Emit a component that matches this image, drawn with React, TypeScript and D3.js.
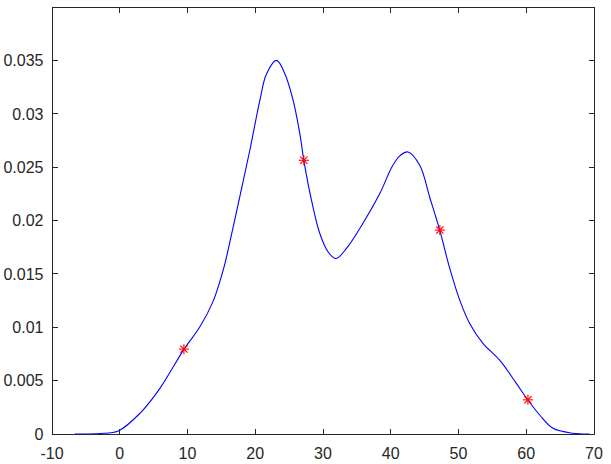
import React from "react";
import * as d3 from "d3";

// density curve
const curveX = [-6.61, -2.92, -0.22, 2.98, 5.93, 9.47, 11.83, 13.79, 15.27, 16.25, 17.73, 19.2, 20.68, 21.67, 23.14, 24.37, 25.59, 26.58, 27.17, 28.3, 29.53, 30.75, 31.89, 33.47, 35.43, 38.38, 40.15, 41.33, 42.55, 44.28, 45.75, 47.23, 48.7, 50.18, 51.65, 53.61, 56.08, 58.54, 60.25, 61.98, 63.94, 66.89, 69.35];
const curveY = [0, 0.00004, 0.00028, 0.00194, 0.00428, 0.00793, 0.01004, 0.01245, 0.01535, 0.01797, 0.02227, 0.02658, 0.03126, 0.03375, 0.035, 0.03375, 0.03126, 0.02814, 0.02564, 0.0219, 0.01878, 0.01706, 0.01644, 0.01738, 0.01925, 0.02252, 0.02499, 0.02606, 0.02642, 0.02517, 0.02218, 0.01909, 0.01553, 0.01254, 0.01036, 0.00849, 0.00692, 0.00474, 0.00318, 0.00178, 0.00053, 0.00007, 0];

// marked samples
const sampleX = [9.47, 27.17, 47.25, 60.25];
const sampleY = [0.00795, 0.02564, 0.0191, 0.0032];

const xTicks = [-10, 0, 10, 20, 30, 40, 50, 60, 70];
const yTicks = [0, 0.005, 0.01, 0.015, 0.02, 0.025, 0.03, 0.035];

const W = 611;
const H = 464;
const left = 52;
const right = 594;
const top = 7;
const bottom = 434;
const axisColor = "#262626";
const font = "'Liberation Sans', Arial, sans-serif";

const App = () => {
  const x = d3.scaleLinear().domain([-10, 70]).range([left, right]);
  const y = d3.scaleLinear().domain([0, 0.04]).range([bottom, top]);

  const line = d3
    .line<number>()
    .x((d, i) => x(curveX[i]))
    .y((d) => Math.min(y(d), bottom))
    .curve(d3.curveCatmullRom.alpha(0.5));

  const tick = 5.5;

  return (
    <svg
      width={W}
      height={H}
      style={{ position: "absolute", left: 0, top: 0, background: "#fff" }}
    >
      <rect x={0} y={0} width={W} height={H} fill="#fff" />
      {/* curve */}
      <path d={line(curveY) || ""} fill="none" stroke="#0000ff" strokeWidth={1.1} />

      {/* star markers */}
      {sampleX.map((sx, i) => {
        const cx = x(sx);
        const cy = y(sampleY[i]);
        const r = 5;
        const q = 3.6;
        return (
          <g key={i} stroke="#ff0000" strokeWidth={1.1}>
            <line x1={cx - r} y1={cy} x2={cx + r} y2={cy} />
            <line x1={cx} y1={cy - r} x2={cx} y2={cy + r} />
            <line x1={cx - q} y1={cy - q} x2={cx + q} y2={cy + q} />
            <line x1={cx - q} y1={cy + q} x2={cx + q} y2={cy - q} />
          </g>
        );
      })}

      {/* box */}
      <rect
        x={left}
        y={top}
        width={right - left}
        height={bottom - top}
        fill="none"
        stroke={axisColor}
        strokeWidth={1}
        shapeRendering="crispEdges"
      />

      {/* x ticks */}
      {xTicks.map((t) => (
        <g key={"x" + t} stroke={axisColor} shapeRendering="crispEdges">
          <line x1={x(t)} x2={x(t)} y1={bottom} y2={bottom - tick} />
          <line x1={x(t)} x2={x(t)} y1={top} y2={top + tick} />
        </g>
      ))}
      {xTicks.map((t) => (
        <text
          key={"xl" + t}
          x={x(t)}
          y={459}
          textAnchor="middle"
          fontFamily={font}
          fontSize={16}
          fill={axisColor}
        >
          {t}
        </text>
      ))}

      {/* y ticks */}
      {yTicks.map((t) => (
        <g key={"y" + t} stroke={axisColor} shapeRendering="crispEdges">
          <line x1={left} x2={left + tick} y1={y(t)} y2={y(t)} />
          <line x1={right} x2={right - tick} y1={y(t)} y2={y(t)} />
        </g>
      ))}
      {yTicks.map((t) => (
        <text
          key={"yl" + t}
          x={43.5}
          y={y(t)}
          dy="0.36em"
          textAnchor="end"
          fontFamily={font}
          fontSize={16}
          fill={axisColor}
        >
          {t === 0 ? "0" : String(+t.toFixed(3))}
        </text>
      ))}
    </svg>
  );
};

export default App;
